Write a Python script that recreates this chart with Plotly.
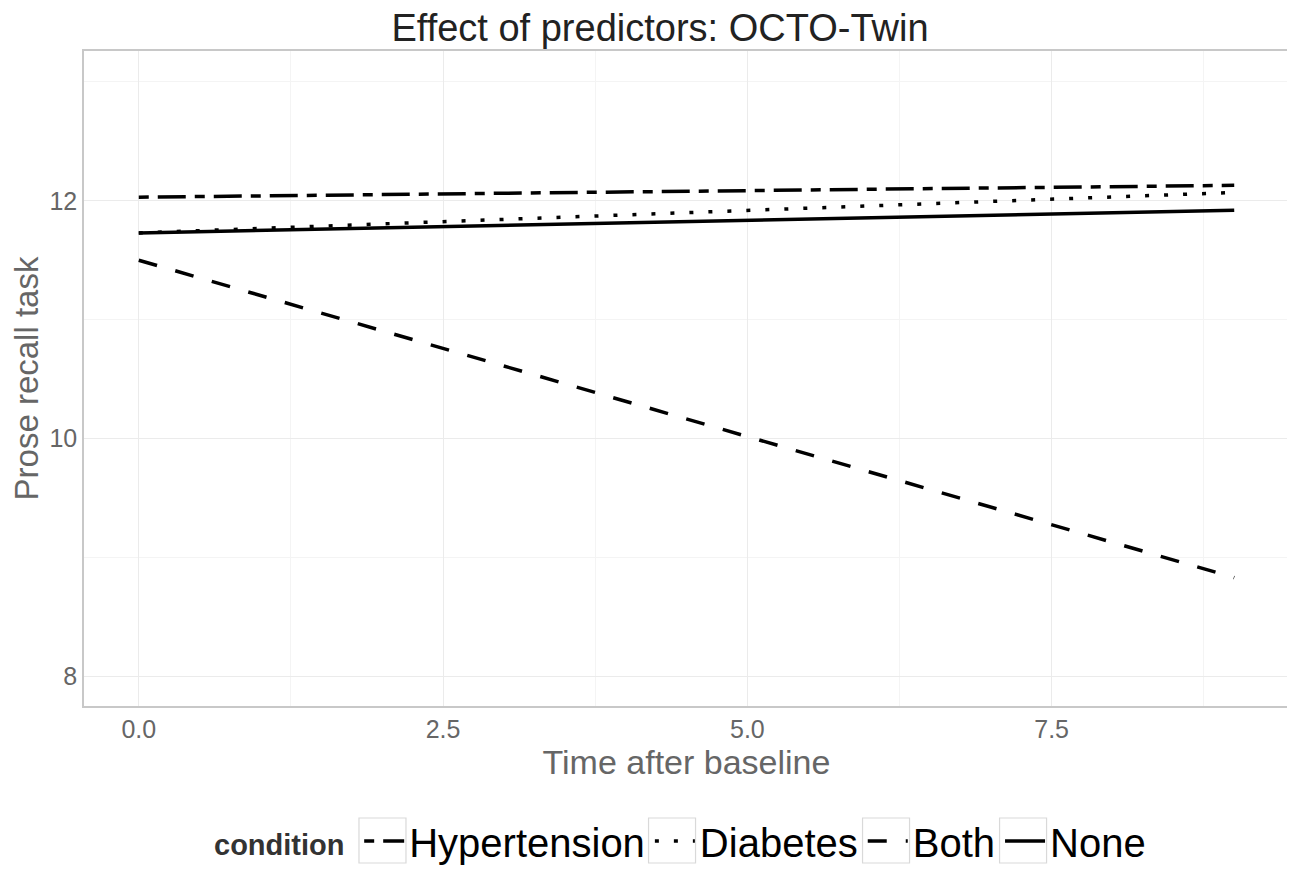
import plotly.graph_objects as go

# Data
conditions = ["Hypertension", "Diabetes", "Both", "None"]
time_points = [0, 9]
hypertension = [12.03, 12.13]
diabetes = [11.73, 12.07]
both = [11.50, 8.83]
none = [11.73, 11.92]
series = [hypertension, diabetes, both, none]

dashes = ["10px,9px,28px,9px", "4px,15px", "19px,19px", "solid"]

x_ticks = [0, 2.5, 5, 7.5]
x_tick_labels = ["0.0", "2.5", "5.0", "7.5"]
y_ticks = [8, 10, 12]
y_tick_labels = ["8", "10", "12"]

fig = go.Figure()
for name, vals, dash in zip(conditions, series, dashes):
    fig.add_trace(go.Scatter(
        x=time_points, y=vals, mode="lines", name=name,
        line=dict(color="black", width=3.5, dash=dash),
    ))

grid_major = "#ebebeb"
font_family = "Liberation Sans, Arial, sans-serif"

# light boxes around the legend keys (decoration, paper coordinates)
key_box_x = [(0.2282, 0.2672), (0.4685, 0.5075), (0.6461, 0.6851), (0.7598, 0.7988)]
shapes = [dict(type="rect", xref="paper", yref="paper", x0=a, x1=b, y0=-0.2397, y1=-0.171,
               line=dict(color="#d9d9d9", width=1.2), fillcolor="rgba(0,0,0,0)", layer="below")
          for a, b in key_box_x]

# the page body adds an 8px offset, so the figure is sized to the visible area
fig.update_layout(
    width=1287, height=861,
    margin=dict(l=76, r=6, t=43, b=163, autoexpand=False),
    paper_bgcolor="white", plot_bgcolor="white",
    font=dict(family=font_family, color="#333333"),
    title=dict(text="Effect of predictors: OCTO-Twin", x=0.5066, xanchor="center",
               y=0.977, yanchor="middle",
               font=dict(size=38, color="#222222", family=font_family)),
    showlegend=True,
    legend=dict(
        orientation="h", x=0.557, xanchor="center", y=-0.206, yanchor="middle",
        font=dict(size=40, color="black", family=font_family),
        itemwidth=40, tracegroupgap=0,
        bgcolor="rgba(0,0,0,0)",
    ),
    shapes=shapes,
    annotations=[dict(
        text="<b>condition</b>", xref="paper", yref="paper",
        x=0.106, y=-0.212, xanchor="left", yanchor="middle", showarrow=False,
        font=dict(size=29, color="#333333", family=font_family),
    )],
    xaxis=dict(
        range=[-0.45, 9.45], automargin=False,
        tickmode="array", tickvals=x_ticks, ticktext=x_tick_labels,
        tickfont=dict(size=25, color="#666666"),
        title=dict(text="Time after baseline", font=dict(size=34, color="#666666"), standoff=8),
        showgrid=True, gridcolor=grid_major, gridwidth=1,
        minor=dict(tickmode="array", tickvals=[1.25, 3.75, 6.25, 8.75], showgrid=True,
                   gridcolor="#f4f4f4", gridwidth=1),
        showline=True, linecolor="#c8c8c8", linewidth=1.5, mirror=True,
        zeroline=False, ticks="", ticklen=0,
    ),
    yaxis=dict(
        range=[7.75, 13.26], automargin=False,
        tickmode="array", tickvals=y_ticks, ticktext=y_tick_labels,
        tickfont=dict(size=25, color="#666666"),
        title=dict(text="Prose recall task", font=dict(size=33, color="#666666"), standoff=8),
        showgrid=True, gridcolor=grid_major, gridwidth=1,
        minor=dict(tickmode="array", tickvals=[9, 11, 13], showgrid=True,
                   gridcolor="#f4f4f4", gridwidth=1),
        showline=True, linecolor="#c8c8c8", linewidth=1.5, mirror=True,
        zeroline=False, ticks="", ticklen=0,
    ),
)

fig.write_html("out.html")
